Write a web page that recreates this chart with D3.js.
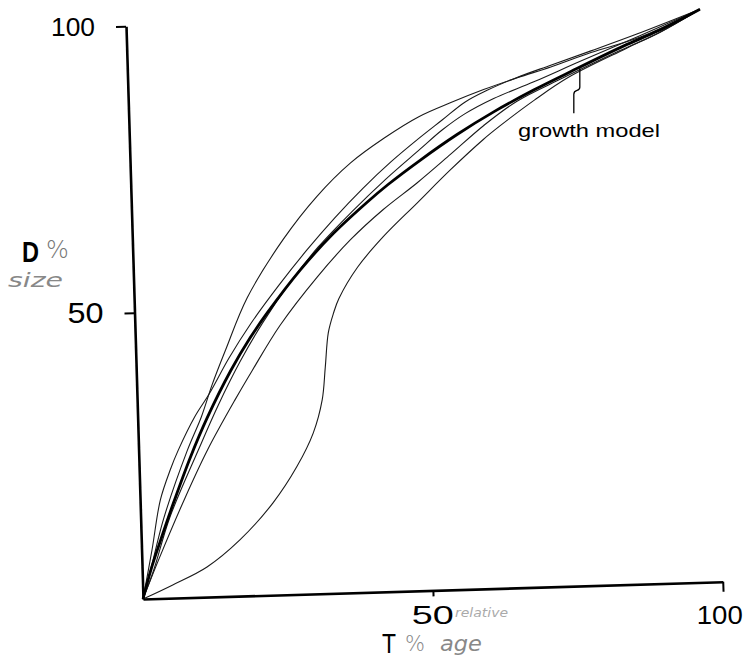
<!DOCTYPE html>
<html>
<head>
<meta charset="utf-8">
<script src="https://cdn.jsdelivr.net/npm/d3@7"></script>
<style>
  html, body { margin: 0; padding: 0; background: #fff; }
  svg { display: block; }
</style>
</head>
<body>
<svg id="chart" width="745" height="670"></svg>
<script>
// ---------------- data (relative age T %, relative size D %) ----------------
const xTickValues = [50, 100];
const yTickValues = [50, 100];
const xTickLabels = ["50", "100"];
const yTickLabels = ["50", "100"];

const growthModel = [[0,0],[1.5,5],[3.2,9.8],[5.7,16.5],[8.9,24.5],[12,31.3],[16.3,39.4],[19.8,45],[22.9,49.3],[28.8,56.6],[34.7,62.8],[40.7,68.1],[44.3,71],[50,75.1],[56.5,79.4],[63,83.2],[70,86.8],[76,89.6],[85.7,94],[91.6,96.4],[99,100]];
const curveUpper = [[0,0],[2,7],[4,14],[8.4,25.7],[11,31.5],[13,37],[15.5,43],[19.5,52],[26,62],[32,69.3],[38,75],[44,79.2],[50,82.7],[55.6,85],[61.3,87.1],[67.2,89],[73,90.7],[80,93],[88.7,95.5],[99,100]];
const curveSteep = [[0,0],[1.8,8.5],[3.5,17.2],[5.4,22.5],[6.8,25.7],[9.9,31.6],[12.5,35.5],[16,41.5],[20,47.5],[25,54],[30,60],[35,65.5],[40,70.5],[45,75],[50,79],[54,82],[58,85],[62,87],[67,89],[73,91],[80,93.3],[88,96],[99,100]];
const curveNear = [[0,0],[2,5],[5,14],[10.3,25.7],[14,33.5],[18,41],[22,47.5],[27,54.5],[32,60.5],[38,66.5],[44,72],[50,77],[54,80.3],[58,83],[63,85.5],[70,88.2],[78,91.5],[88,95.5],[99,100]];
const curveLower = [[0,0],[3,7],[7.8,17.5],[11.9,25.7],[16.9,34.3],[20,39.3],[25,47],[31.7,55.3],[37.6,61.6],[43.4,66.7],[49.4,71.2],[55.3,76],[61.1,80.8],[67,84.9],[75,88.7],[85,93.2],[92,96.2],[99,100]];
const curveSigmoid = [[0,0],[5.2,2.3],[11.2,5.25],[17,9.8],[22.9,16.1],[27.2,22.3],[30.2,28.1],[31.9,33.8],[32.6,39.5],[33.3,45.5],[34.3,48.9],[35.3,51.4],[38.7,56.8],[43.3,62],[49.3,67.7],[55.2,73.3],[61,78.4],[64.1,80.8],[70,85],[76,88.8],[86,93.5],[92,96.2],[99,100]];

const annotationText = "growth model";
const annotationAt = 78; // T % where the leader touches the growth model curve

// ---------------- layout ----------------
const svg = d3.select("#chart");
const origin = [143, 599];
const tilt = -1.7;            // the scanned figure is slightly rotated
const plotW = 580, plotH = 573;

const x = d3.scaleLinear().domain([0, 100]).range([0, plotW]);
const y = d3.scaleLinear().domain([0, 100]).range([0, -plotH]);

const rad = tilt * Math.PI / 180;
function project(u, v) {
  const px = x(u), py = y(v);
  return [origin[0] + px * Math.cos(rad) - py * Math.sin(rad),
          origin[1] + px * Math.sin(rad) + py * Math.cos(rad)];
}

const plot = svg.append("g")
  .attr("transform", `translate(${origin[0]},${origin[1]}) rotate(${tilt})`);

// axes
const xAxis = d3.axisBottom(x).tickValues(xTickValues).tickSize(8).tickSizeOuter(0).tickFormat("");
const yAxis = d3.axisLeft(y).tickValues(yTickValues).tickSize(10).tickSizeOuter(0).tickFormat("");
const gx = plot.append("g").call(xAxis);
const gy = plot.append("g").call(yAxis);
[gx, gy].forEach(g => {
  g.selectAll("text").remove();
  g.select(".domain").attr("stroke", "#000").attr("stroke-width", 2.6);
  g.selectAll(".tick line").attr("stroke", "#000").attr("stroke-width", 2);
});
gx.selectAll(".tick line").attr("y2", d => d === 100 ? 10 : 6);

// curves
const line = d3.line()
  .x(d => x(d[0])).y(d => y(d[1]))
  .curve(d3.curveCatmullRom.alpha(0.5));

const thin = [curveUpper, curveSteep, curveNear, curveLower, curveSigmoid];
plot.selectAll("path.thin").data(thin).join("path")
  .attr("class", "thin")
  .attr("d", line)
  .attr("fill", "none")
  .attr("stroke", "#1a1a1a")
  .attr("stroke-width", 1.1);

plot.append("path")
  .attr("d", line(growthModel))
  .attr("fill", "none")
  .attr("stroke", "#000")
  .attr("stroke-width", 2.8)
  .attr("stroke-linejoin", "round");

// ---------------- texts ----------------
const digitFont = "'Liberation Sans', Arial, sans-serif";

// y tick labels
const yLabelSize = { "100": [26, 44], "50": [30, 36] };
yTickValues.forEach((t, i) => {
  const p = project(0, t);
  const [fs, w] = yLabelSize[yTickLabels[i]];
  svg.append("text")
    .attr("x", p[0] - 31).attr("y", p[1] + 10)
    .attr("text-anchor", "end")
    .attr("font-family", digitFont).attr("font-size", fs)
    .attr("textLength", w).attr("lengthAdjust", "spacingAndGlyphs")
    .text(yTickLabels[i]);
});

// x tick labels
const xLabelWidth = { "50": 42, "100": 46 };
xTickValues.forEach((t, i) => {
  const p = project(t, 0);
  svg.append("text")
    .attr("x", p[0] - (t === 100 ? 3 : 0)).attr("y", origin[1] + 25)
    .attr("text-anchor", "middle")
    .attr("font-family", digitFont).attr("font-size", 26)
    .attr("textLength", xLabelWidth[xTickLabels[i]]).attr("lengthAdjust", "spacingAndGlyphs")
    .text(xTickLabels[i]);
});

// y axis title: "D %" with handwritten "size"
svg.append("text")
  .attr("x", 22).attr("y", 262)
  .attr("font-family", digitFont).attr("font-weight", "bold").attr("font-size", 29)
  .attr("textLength", 17).attr("lengthAdjust", "spacingAndGlyphs")
  .text("D");
svg.append("text")
  .attr("x", 46).attr("y", 258)
  .attr("font-family", "'DejaVu Sans', sans-serif").attr("font-weight", 200).attr("font-size", 24)
  .attr("fill", "#777")
  .text("%");
svg.append("text")
  .attr("x", 8).attr("y", 287)
  .attr("font-family", "'DejaVu Sans', sans-serif").attr("font-style", "italic").attr("font-size", 19)
  .attr("fill", "#888")
  .attr("textLength", 55).attr("lengthAdjust", "spacingAndGlyphs")
  .text("size");

// x axis title: "T % age" with handwritten "relative"
svg.append("text")
  .attr("x", 382).attr("y", 653)
  .attr("font-family", digitFont).attr("font-size", 28)
  .attr("textLength", 14).attr("lengthAdjust", "spacingAndGlyphs")
  .text("T");
svg.append("text")
  .attr("x", 405).attr("y", 651)
  .attr("font-family", "'DejaVu Sans', sans-serif").attr("font-weight", 200).attr("font-size", 21)
  .attr("fill", "#888")
  .text("%");
svg.append("text")
  .attr("x", 440).attr("y", 651)
  .attr("font-family", "'DejaVu Sans', sans-serif").attr("font-style", "italic").attr("font-size", 21)
  .attr("fill", "#888")
  .attr("textLength", 42).attr("lengthAdjust", "spacingAndGlyphs")
  .text("age");
svg.append("text")
  .attr("x", 455).attr("y", 617)
  .attr("font-family", "'DejaVu Sans', sans-serif").attr("font-style", "italic").attr("font-size", 12)
  .attr("fill", "#aaa")
  .attr("textLength", 53).attr("lengthAdjust", "spacingAndGlyphs")
  .text("relative");

// annotation: leader from the growth-model curve
const idx = d3.bisector(d => d[0]).left(growthModel, annotationAt);
const a0 = growthModel[idx - 1], a1 = growthModel[idx];
const vAt = a0[1] + (a1[1] - a0[1]) * (annotationAt - a0[0]) / (a1[0] - a0[0]);
const tip = project(annotationAt, vAt);
const leader = d3.path();
leader.moveTo(tip[0], tip[1] + 1);
leader.lineTo(tip[0], tip[1] + 20);
leader.bezierCurveTo(tip[0], tip[1] + 25, tip[0] - 6, tip[1] + 21, tip[0] - 6, tip[1] + 27);
leader.lineTo(tip[0] - 6, tip[1] + 46);
svg.append("path")
  .attr("d", leader.toString())
  .attr("fill", "none").attr("stroke", "#000").attr("stroke-width", 1.3);

svg.append("text")
  .attr("x", 518).attr("y", 137)
  .attr("font-family", digitFont).attr("font-size", 19)
  .attr("textLength", 142).attr("lengthAdjust", "spacingAndGlyphs")
  .text(annotationText);
</script>
</body>
</html>
